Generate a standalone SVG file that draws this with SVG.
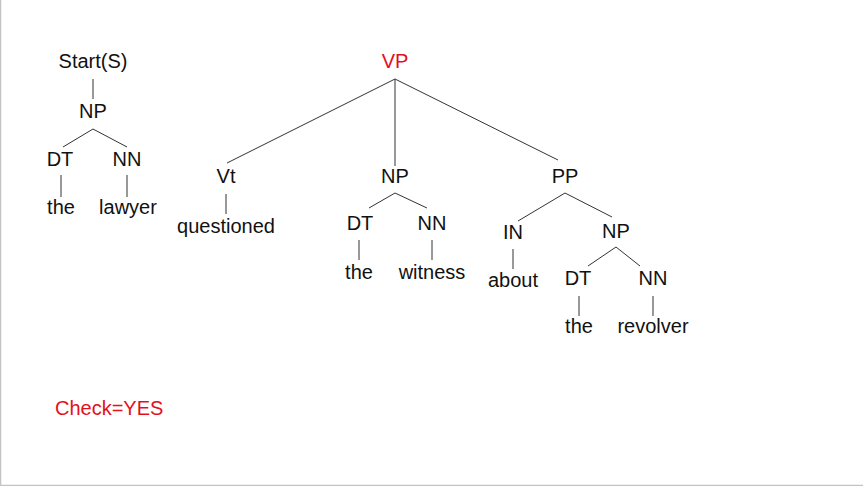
<svg xmlns="http://www.w3.org/2000/svg" width="863" height="486" viewBox="0 0 863 486">
<style>
text{font-family:"Liberation Sans",Arial,sans-serif;font-size:20px;fill:#111;text-anchor:middle}
.red{fill:#e3101c}
.e line{stroke:#333;stroke-width:1}
</style>
<rect x="0" y="0" width="863" height="486" fill="#fff"/>
<path d="M0.5 0V485.5H863" fill="none" stroke="#c3c3c3" stroke-width="1.5"/>
<g class="e" id="connectors">
<line x1="93" y1="79" x2="93" y2="99"/>
<line x1="93" y1="129" x2="63" y2="147"/>
<line x1="93" y1="129" x2="127" y2="147"/>
<line x1="61" y1="175" x2="61" y2="197"/>
<line x1="127" y1="175" x2="127" y2="197"/>
<line x1="395" y1="79" x2="227" y2="163"/>
<line x1="395" y1="79" x2="395" y2="166"/>
<line x1="395" y1="79" x2="558" y2="160"/>
<line x1="226" y1="194" x2="226" y2="214"/>
<line x1="395" y1="193" x2="369" y2="208"/>
<line x1="395" y1="193" x2="427" y2="208"/>
<line x1="359" y1="240" x2="359" y2="260"/>
<line x1="432" y1="240" x2="432" y2="260"/>
<line x1="565" y1="193" x2="518" y2="221"/>
<line x1="565" y1="193" x2="612" y2="217"/>
<line x1="513" y1="249" x2="513" y2="269"/>
<line x1="616" y1="247" x2="588" y2="266"/>
<line x1="616" y1="247" x2="640" y2="266"/>
<line x1="579" y1="296" x2="579" y2="316"/>
<line x1="653" y1="296" x2="653" y2="316"/>
</g>
<g id="start"><text x="93" y="68">Start(S)</text></g>
<g id="np1"><text x="93" y="118">NP</text></g>
<g id="dt1"><text x="60" y="166">DT</text></g>
<g id="nn1"><text x="127" y="166">NN</text></g>
<g id="the1"><text x="61" y="214">the</text></g>
<g id="lawyer"><text x="128" y="214">lawyer</text></g>
<g id="vp"><text class="red" x="395" y="68">VP</text></g>
<g id="vt"><text x="226" y="183">Vt</text></g>
<g id="questioned"><text x="226" y="233">questioned</text></g>
<g id="np2"><text x="395" y="183">NP</text></g>
<g id="dt2"><text x="360" y="230">DT</text></g>
<g id="nn2"><text x="432" y="230">NN</text></g>
<g id="the2"><text x="359" y="279">the</text></g>
<g id="witness"><text x="432" y="279">witness</text></g>
<g id="pp"><text x="565" y="183">PP</text></g>
<g id="in"><text x="513" y="239">IN</text></g>
<g id="about"><text x="513" y="287">about</text></g>
<g id="np3"><text x="616" y="238">NP</text></g>
<g id="dt3"><text x="578" y="285">DT</text></g>
<g id="nn3"><text x="653" y="285">NN</text></g>
<g id="the3"><text x="579" y="333">the</text></g>
<g id="revolver"><text x="653" y="333">revolver</text></g>
<g id="check"><text class="red" x="55" y="415" style="text-anchor:start">Check=YES</text></g>
</svg>
